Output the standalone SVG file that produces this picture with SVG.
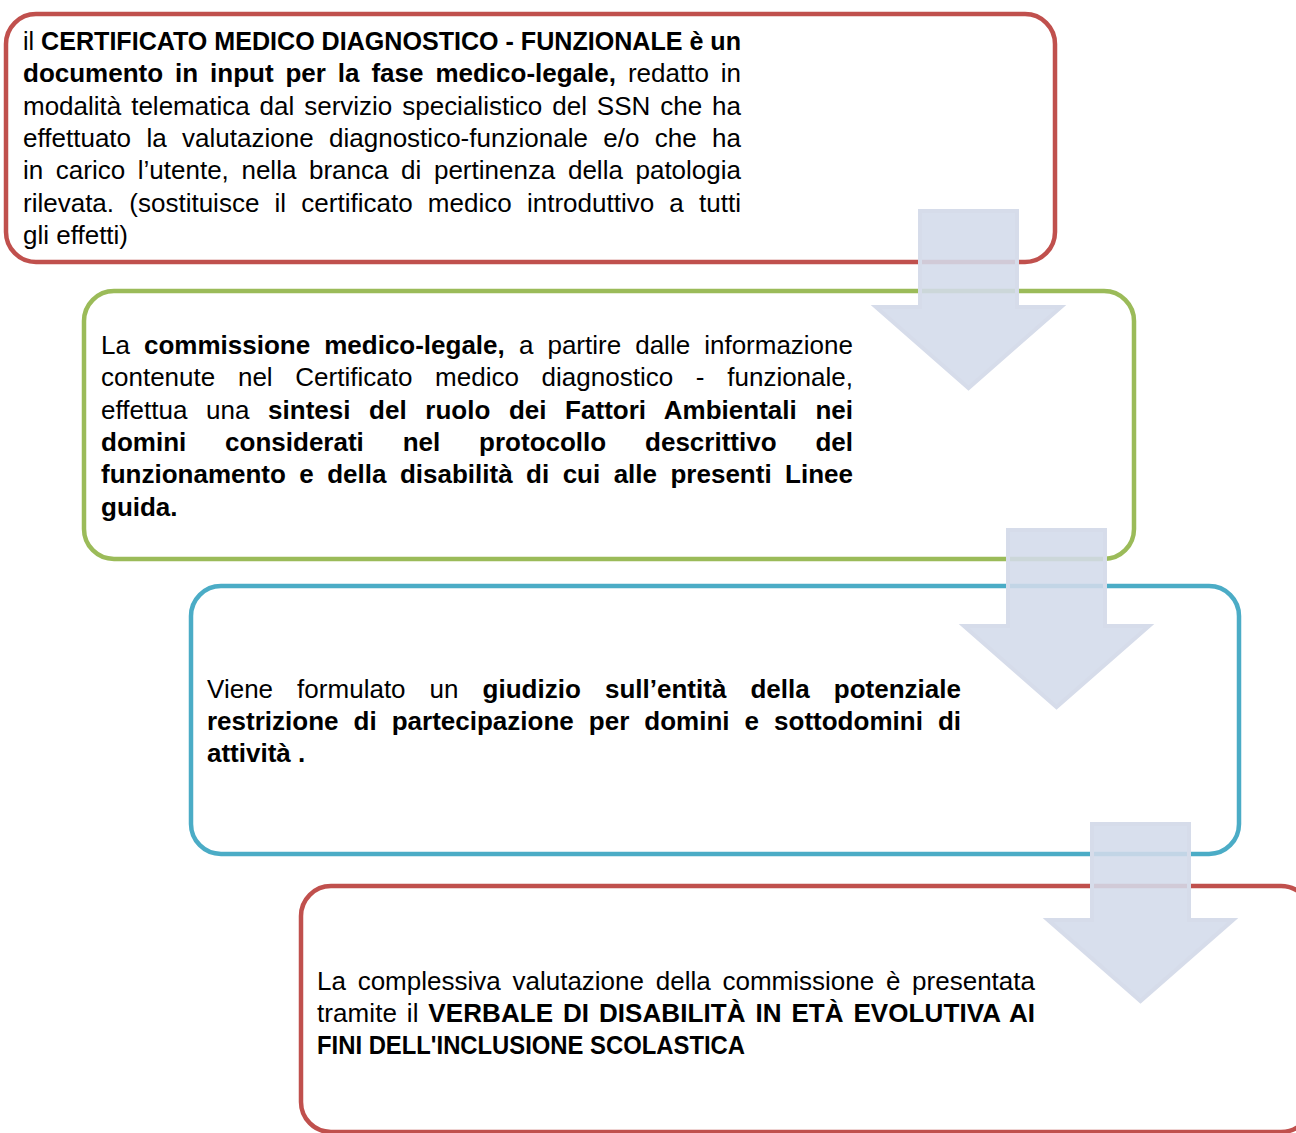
<svg xmlns="http://www.w3.org/2000/svg" xmlns:xlink="http://www.w3.org/1999/xlink" width="1296" height="1133" viewBox="0 0 1296 1133">
<defs>
<style>
.box{fill:#ffffff;stroke-width:4.5}
.red{stroke:#c0504d}
.green{stroke:#9bbb59}
.blue{stroke:#4bacc6}
.t{font-family:"Liberation Sans",Arial,sans-serif;font-size:26px;fill:#000000}
.b{font-weight:bold}
.arrow{fill:#d3dbea;fill-opacity:0.88;stroke:#d6dcea;stroke-width:4}
</style>
<path id="arr" d="M2,2 H99 V98 H143 L50.5,179 L-42,98 H2 Z"/>
</defs>
<rect width="1296" height="1133" fill="#ffffff"/>

<g id="node1">
<rect class="box red" x="6" y="14" width="1049" height="248" rx="30"/>
<text class="t" x="23" y="50" textLength="718" lengthAdjust="spacingAndGlyphs">il <tspan class="b">CERTIFICATO MEDICO DIAGNOSTICO - FUNZIONALE è un</tspan></text>
<text class="t" x="23" y="82.3" textLength="718" lengthAdjust="spacing" style="word-spacing:4.7px"><tspan class="b">documento in input per la fase medico-legale,</tspan> redatto in</text>
<text class="t" x="23" y="114.6" textLength="718" lengthAdjust="spacing" style="word-spacing:2.7px">modalità telematica dal servizio specialistico del SSN che ha</text>
<text class="t" x="23" y="146.9" textLength="718" lengthAdjust="spacing" style="word-spacing:8.1px">effettuato la valutazione diagnostico-funzionale e/o che ha</text>
<text class="t" x="23" y="179.2" textLength="718" lengthAdjust="spacing" style="word-spacing:5.4px">in carico l’utente, nella branca di pertinenza della patologia</text>
<text class="t" x="23" y="211.5" textLength="718" lengthAdjust="spacing" style="word-spacing:8px">rilevata. (sostituisce il certificato medico introduttivo a tutti</text>
<text class="t" x="23" y="243.8">gli effetti)</text>
</g>

<g id="node2">
<rect class="box green" x="84" y="291" width="1050" height="268" rx="30"/>
<text class="t" x="101" y="354" textLength="752" lengthAdjust="spacing" style="word-spacing:6.9px">La <tspan class="b">commissione medico-legale,</tspan> a partire dalle informazione</text>
<text class="t" x="101" y="386.3" textLength="752" lengthAdjust="spacing" style="word-spacing:15.5px">contenute nel Certificato medico diagnostico - funzionale,</text>
<text class="t" x="101" y="418.6" textLength="752" lengthAdjust="spacing" style="word-spacing:11.3px">effettua una <tspan class="b">sintesi del ruolo dei Fattori Ambientali nei</tspan></text>
<text class="t b" x="101" y="450.9" textLength="752" lengthAdjust="spacing" style="word-spacing:31.6px">domini considerati nel protocollo descrittivo del</text>
<text class="t b" x="101" y="483.2" textLength="752" lengthAdjust="spacing" style="word-spacing:6.2px">funzionamento e della disabilità di cui alle presenti Linee</text>
<text class="t b" x="101" y="515.5">guida.</text>
</g>

<g id="node3">
<rect class="box blue" x="191" y="586" width="1048" height="268" rx="30"/>
<text class="t" x="207" y="697.5" textLength="754" lengthAdjust="spacing" style="word-spacing:16.8px">Viene formulato un <tspan class="b">giudizio sull’entità della potenziale</tspan></text>
<text class="t b" x="207" y="729.8" textLength="754" lengthAdjust="spacing" style="word-spacing:7.8px">restrizione di partecipazione per domini e sottodomini di</text>
<text class="t b" x="207" y="762.1">attività .</text>
</g>

<g id="node4">
<rect class="box red" x="301" y="886" width="1010" height="246" rx="30"/>
<text class="t" x="317" y="989.5" textLength="718" lengthAdjust="spacing" style="word-spacing:4.5px">La complessiva valutazione della commissione è presentata</text>
<text class="t" x="317" y="1021.8" textLength="718" lengthAdjust="spacing" style="word-spacing:2.5px">tramite il <tspan class="b">VERBALE DI DISABILITÀ IN ETÀ EVOLUTIVA AI</tspan></text>
<text class="t b" x="317" y="1054.1" textLength="428" lengthAdjust="spacingAndGlyphs">FINI DELL'INCLUSIONE SCOLASTICA</text>
</g>

<g id="connectors">
<use class="arrow" xlink:href="#arr" href="#arr" transform="translate(918,209)"/>
<use class="arrow" xlink:href="#arr" href="#arr" transform="translate(1006,528)"/>
<use class="arrow" xlink:href="#arr" href="#arr" transform="translate(1090,822)"/>
</g>
</svg>
